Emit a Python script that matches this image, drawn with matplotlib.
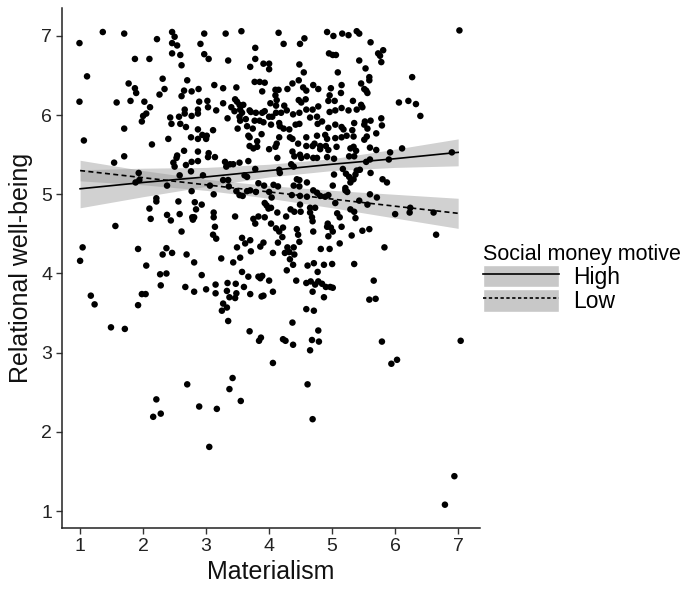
import matplotlib
matplotlib.use("Agg")
import matplotlib.pyplot as plt
from matplotlib.patches import Patch
from matplotlib.lines import Line2D
import numpy as np

plt.rcParams['font.family'] = ['Liberation Sans', 'DejaVu Sans']

# ---- scatter data (Materialism, Relational well-being) ----
pts_upper_left = [
    (0.99,6.91),(1.36,7.05),(1.70,7.03),(2.22,6.96),(2.46,7.05),(2.50,6.99),(2.46,6.91),(2.54,6.88),(2.91,6.90),(2.97,7.03),
    (2.46,6.78),(2.59,6.76),(2.97,6.77),(1.87,6.71),(2.10,6.71),(2.61,6.63),(1.11,6.49),(1.77,6.40),(1.87,6.34),(1.89,6.28),
    (2.31,6.46),(2.70,6.44),(2.34,6.33),(2.26,6.26),(2.65,6.31),(2.77,6.30),(2.88,6.33),(2.61,6.24),(0.99,6.17),(1.58,6.16),
    (1.80,6.18),(2.02,6.17),(2.11,6.10),(2.89,6.17),(2.05,6.02),(2.00,5.99),(1.98,5.92),(2.66,6.07),(2.66,6.02),(2.57,5.98),
    (2.43,5.97),(2.77,5.99),(2.87,6.07),(2.87,6.02),(2.45,5.89),(2.59,5.89),(2.68,5.85),(1.70,5.83),(2.87,5.82),(1.06,5.68),
    (2.40,5.70),(2.76,5.72),(2.87,5.70),(2.94,5.75),(2.14,5.63),(2.65,5.55),(2.54,5.49),(2.53,5.46),(2.87,5.54),(1.70,5.48),
    (1.54,5.40),(2.48,5.40),(2.50,5.35),(2.68,5.37),(2.77,5.41),(2.87,5.42),(1.93,5.27),(1.88,5.15),(1.94,5.18),(2.58,5.24),
    (2.76,5.29),(2.38,5.11),
]
pts_upper_mid = [
    (3.31,7.03),(3.56,7.06),(4.15,7.04),(4.92,7.05),(5.02,7.00),(5.16,7.03),(4.23,6.90),(4.49,6.90),(4.56,6.97),(3.78,6.85),
    (3.04,6.71),(3.35,6.69),(3.78,6.71),(3.70,6.61),(3.91,6.65),(4.00,6.65),(4.00,6.58),(4.48,6.64),(4.95,6.78),(5.01,6.76),
    (5.06,6.76),(5.09,6.54),(4.55,6.54),(4.47,6.44),(4.37,6.40),(3.77,6.42),(3.85,6.42),(3.93,6.41),(3.13,6.38),(3.27,6.34),
    (3.48,6.35),(3.89,6.30),(4.10,6.32),(4.15,6.32),(4.29,6.33),(4.54,6.35),(4.59,6.31),(4.70,6.38),(4.78,6.33),(4.98,6.34),
    (5.15,6.38),(4.10,6.25),(4.12,6.19),(4.47,6.19),(4.51,6.16),(4.58,6.20),(4.96,6.25),(5.04,6.18),(4.94,6.18),(3.02,6.18),
    (3.03,6.10),(3.16,6.06),(3.27,6.15),(3.46,6.20),(3.49,6.17),(3.53,6.13),(3.59,6.13),(3.40,6.10),(3.45,6.05),(3.54,6.07),
    (3.57,6.03),(3.69,6.06),(3.71,6.04),(3.79,6.03),(3.89,6.03),(3.93,6.05),(4.02,6.15),(4.11,6.12),(4.24,6.12),(4.00,5.98),
    (4.05,5.98),(4.11,6.03),(4.19,6.03),(4.28,6.06),(4.38,6.01),(4.48,6.03),(4.59,6.07),(4.69,6.07),(4.78,6.11),(4.65,5.97),
    (4.76,5.98),(4.96,6.04),(5.05,6.06),(5.15,6.09),(3.34,5.96),(3.53,5.98),(3.63,5.95),(3.77,5.93),(3.85,5.93),(3.91,5.91),
    (3.54,5.93),(4.03,5.88),(4.16,5.90),(4.17,5.86),(4.32,5.82),(4.42,5.88),(4.48,5.89),(4.77,5.89),(4.84,5.92),(4.94,5.84),
    (5.05,5.88),(5.15,5.85),(3.11,5.81),(3.50,5.83),(3.74,5.83),(3.65,5.86),(4.23,5.83),(3.01,5.74),(3.00,5.70),(3.67,5.74),
    (3.69,5.72),(3.88,5.76),(4.16,5.72),(4.33,5.72),(4.37,5.70),(4.59,5.72),(4.76,5.74),(4.89,5.75),(4.92,5.70),(5.05,5.71),
    (3.69,5.61),(3.75,5.58),(3.81,5.60),(3.81,5.67),(4.00,5.57),(4.10,5.60),(4.12,5.64),(4.46,5.64),(4.59,5.61),(4.69,5.61),
    (4.72,5.64),(4.81,5.61),(4.81,5.57),(4.90,5.61),(4.94,5.56),(5.07,5.60),(3.04,5.52),(3.03,5.47),(3.14,5.47),(3.30,5.41),
    (3.32,5.35),(3.38,5.38),(3.43,5.38),(3.53,5.40),(3.67,5.42),(4.13,5.46),(4.37,5.54),(4.40,5.48),(4.49,5.50),(4.51,5.46),
    (4.60,5.48),(4.70,5.46),(4.76,5.46),(4.92,5.47),(5.03,5.45),(3.78,5.32),(4.16,5.31),(4.35,5.38),(4.39,5.35),(2.95,5.24),
    (3.27,5.18),(3.35,5.18),(3.36,5.10),(3.61,5.24),(3.65,5.22),(3.83,5.14),(3.92,5.11),(4.07,5.12),(4.14,5.10),(4.17,5.27),
    (4.44,5.19),(4.48,5.18),(4.39,5.11),(4.48,5.10),(4.60,5.15),(5.03,5.25),(5.01,5.11),
]
pts_upper_right = [
    (5.26,7.01),(5.39,7.06),(5.43,7.03),(7.02,7.07),(5.61,6.92),(5.73,6.78),(5.76,6.75),(5.81,6.82),(5.78,6.67),(5.43,6.69),
    (5.53,6.59),(5.59,6.48),(5.59,6.44),(5.46,6.40),(5.51,6.33),(5.54,6.31),(5.56,6.28),(5.14,6.28),(6.27,6.48),(5.33,6.18),
    (5.46,6.13),(5.48,6.10),(5.39,6.07),(5.26,6.06),(6.06,6.16),(6.21,6.18),(6.33,6.14),(6.40,5.99),(5.78,5.96),(5.35,5.90),
    (5.52,5.92),(5.61,5.93),(5.51,5.88),(5.56,5.83),(5.79,5.87),(5.18,5.82),(5.32,5.81),(5.34,5.73),(5.23,5.74),(5.15,5.72),
    (5.70,5.77),(5.55,5.73),(5.51,5.69),(5.29,5.58),(5.34,5.60),(5.38,5.55),(5.60,5.59),(5.70,5.56),(5.92,5.53),(6.11,5.58),
    (5.27,5.48),(5.35,5.48),(5.60,5.44),(5.54,5.41),(5.90,5.44),(6.90,5.53),(5.17,5.32),(5.22,5.26),(5.27,5.22),(5.37,5.25),
    (5.39,5.30),(5.44,5.31),(5.61,5.27),(5.34,5.19),(5.29,5.15),(5.80,5.19),(5.87,5.15),(5.21,5.08),
]
pts_mid_left = [
    (2.77,5.04),(2.21,4.95),(2.21,4.91),(2.10,4.82),(2.56,4.91),(2.82,4.90),(2.93,4.87),(2.84,4.81),(2.12,4.69),(2.38,4.74),
    (2.44,4.67),(2.58,4.75),(2.78,4.71),(2.81,4.71),(2.79,4.68),(1.56,4.60),(2.61,4.53),(1.04,4.33),(1.92,4.31),(2.37,4.32),
    (2.31,4.24),(2.46,4.26),(2.69,4.24),(1.00,4.16),(2.81,4.14),(2.05,4.10),(2.27,3.99),(2.37,4.00),(2.93,3.98),(2.28,3.85),
    (1.98,3.74),(2.04,3.74),(2.67,3.83),(2.81,3.77),(3.00,3.80),(1.17,3.72),(1.23,3.61),(1.92,3.60),(1.49,3.32),(1.71,3.30),
]
pts_mid_center = [
    (3.06,5.11),(3.48,5.04),(3.53,4.99),(3.58,4.98),(3.65,5.04),(3.70,5.05),(3.79,5.03),(4.00,5.03),(4.04,4.96),(4.36,4.99),
    (4.49,4.98),(4.60,4.97),(4.70,5.05),(4.76,5.02),(4.81,4.98),(4.89,4.97),(4.94,4.99),(5.05,4.89),(3.12,5.00),(3.93,4.89),
    (3.96,4.86),(3.99,4.82),(4.03,4.83),(4.13,4.77),(4.34,4.81),(4.40,4.78),(4.49,4.87),(4.50,4.78),(4.65,4.83),(4.65,4.77),
    (4.73,4.83),(3.12,4.77),(3.12,4.71),(3.46,4.72),(3.75,4.69),(3.83,4.72),(3.93,4.71),(3.78,4.63),(4.03,4.63),(4.27,4.72),
    (4.68,4.71),(4.69,4.66),(5.08,4.76),(5.12,4.71),(3.14,4.59),(4.11,4.57),(4.16,4.53),(4.22,4.58),(4.44,4.56),(4.46,4.49),
    (4.70,4.53),(4.93,4.63),(4.92,4.59),(4.98,4.58),(5.01,4.53),(4.94,4.47),(3.11,4.49),(3.16,4.44),(3.57,4.45),(3.62,4.38),
    (3.70,4.42),(3.49,4.33),(3.71,4.28),(3.86,4.34),(3.91,4.39),(4.21,4.46),(4.14,4.39),(4.29,4.33),(4.39,4.33),(4.48,4.40),
    (4.06,4.26),(4.25,4.26),(4.32,4.27),(4.40,4.24),(4.33,4.18),(4.38,4.11),(4.28,4.04),(4.82,4.31),(4.96,4.31),(5.12,4.38),
    (3.24,4.19),(3.43,4.14),(3.54,4.20),(4.61,4.10),(4.71,4.13),(4.87,4.11),(5.00,4.12),(3.57,4.02),(3.67,3.96),(3.83,3.96),
    (3.89,3.97),(3.86,3.94),(4.00,3.91),(4.77,4.02),(4.43,3.91),(4.59,3.88),(4.66,3.90),(4.73,3.86),(4.78,3.90),(4.84,3.87),
    (4.90,3.83),(4.97,3.83),(5.01,3.82),(4.69,3.77),(4.87,3.70),(3.15,3.86),(3.15,3.75),(3.34,3.88),(3.47,3.87),(3.33,3.78),
    (3.48,3.75),(3.37,3.70),(3.46,3.69),(3.60,3.83),(3.70,3.74),(4.06,3.77),(3.88,3.71),(3.91,3.72),(3.27,3.62),(3.33,3.57),
    (3.25,3.53),(3.35,3.40),(4.59,3.55),(4.71,3.53),(4.37,3.38),(3.69,3.27),(3.87,3.19),(3.84,3.15),(4.22,3.17),(4.26,3.15),
    (4.38,3.10),(4.78,3.28),(4.68,3.16),(4.79,3.14),(4.65,3.03),
]
pts_mid_right = [
    (5.21,5.05),(5.24,5.03),(5.60,5.00),(5.71,4.96),(5.43,4.92),(5.56,4.87),(5.29,4.81),(5.35,4.78),(5.37,4.70),(5.15,4.59),
    (6.00,4.75),(6.24,4.83),(6.23,4.77),(6.61,4.77),(5.31,4.48),(5.48,4.54),(5.59,4.56),(5.83,4.33),(6.65,4.49),(5.35,4.12),
    (5.66,3.91),(5.59,3.67),(5.69,3.68),(5.79,3.14),(7.04,3.15),
]
pts_lower = [
    (2.70,2.60),(2.21,2.41),(2.89,2.32),(2.16,2.19),(2.28,2.23),(4.06,2.87),(3.42,2.68),(3.37,2.54),(3.55,2.39),(3.17,2.29),
    (4.61,2.60),(4.69,2.16),(3.05,1.81),(5.94,2.86),(6.03,2.91),(6.94,1.44),(6.79,1.08),
]

# ---- fitted lines and confidence bands ----
fit_x = [1, 2, 3, 4, 5, 6, 7]
high_fit = [5.07, 5.15, 5.22, 5.30, 5.38, 5.45, 5.53]
high_lo = [4.83, 4.97, 5.10, 5.22, 5.30, 5.34, 5.36]
high_hi = [5.31, 5.33, 5.34, 5.38, 5.45, 5.57, 5.70]
low_fit = [5.30, 5.21, 5.12, 5.03, 4.94, 4.85, 4.76]
low_lo = [5.17, 5.12, 5.05, 4.95, 4.83, 4.70, 4.57]
low_hi = [5.43, 5.30, 5.19, 5.11, 5.05, 5.00, 4.95]

x_ticks = [1, 2, 3, 4, 5, 6, 7]
y_ticks = [1, 2, 3, 4, 5, 6, 7]
legend_title = "Social money motive"
legend_labels = ["High", "Low"]

all_pts = pts_upper_left + pts_upper_mid + pts_upper_right + pts_mid_left + pts_mid_center + pts_mid_right + pts_lower
px = [p[0] for p in all_pts]
py = [p[1] for p in all_pts]

fig = plt.figure(figsize=(6.87, 5.90), dpi=100)
ax = fig.add_axes([0.090, 0.105, 0.609, 0.881])

band_color = '#999999'
band_alpha = 0.45
ax.fill_between(fit_x, high_lo, high_hi, color=band_color, alpha=band_alpha, lw=0, zorder=1)
ax.fill_between(fit_x, low_lo, low_hi, color=band_color, alpha=band_alpha, lw=0, zorder=1)
ax.scatter(px, py, s=22, c='black', edgecolors='none', zorder=2)
ax.plot(fit_x, high_fit, color='black', lw=1.2, zorder=3)
ax.plot(fit_x, low_fit, color='black', lw=1.2, ls=(0, (3, 2)), zorder=3)

ax.set_xlim(0.71, 7.35)
ax.set_ylim(0.785, 7.35)
ax.set_xticks(x_ticks)
ax.set_yticks(y_ticks)
for s in ['top', 'right']:
    ax.spines[s].set_visible(False)
for s in ['left', 'bottom']:
    ax.spines[s].set_linewidth(1.1)
    ax.spines[s].set_color('#222222')
ax.tick_params(axis='both', length=4, width=1.0, color='#333333', labelsize=14, labelcolor='#222222', pad=3)
ax.set_xlabel("Materialism", fontsize=18, color='#111111', labelpad=4)
ax.set_ylabel("Relational well-being", fontsize=18, color='#111111', labelpad=6)

h_high = (Patch(facecolor='#c8c8c8', edgecolor='white', linewidth=1.0), Line2D([], [], color='black', lw=1.2))
h_low = (Patch(facecolor='#c8c8c8', edgecolor='white', linewidth=1.0), Line2D([], [], color='black', lw=1.2, ls=(0, (2, 1.5))))
leg = fig.legend([h_high, h_low], legend_labels, title=legend_title,
                 loc='upper left', bbox_to_anchor=(0.703, 0.587), frameon=False,
                 fontsize=16.5, title_fontsize=15.5, handlelength=3.3, handleheight=1.15,
                 labelspacing=0.0, handletextpad=0.65, borderpad=0, borderaxespad=0)
leg._legend_box.align = "left"

fig.savefig("out.png", dpi=100)
